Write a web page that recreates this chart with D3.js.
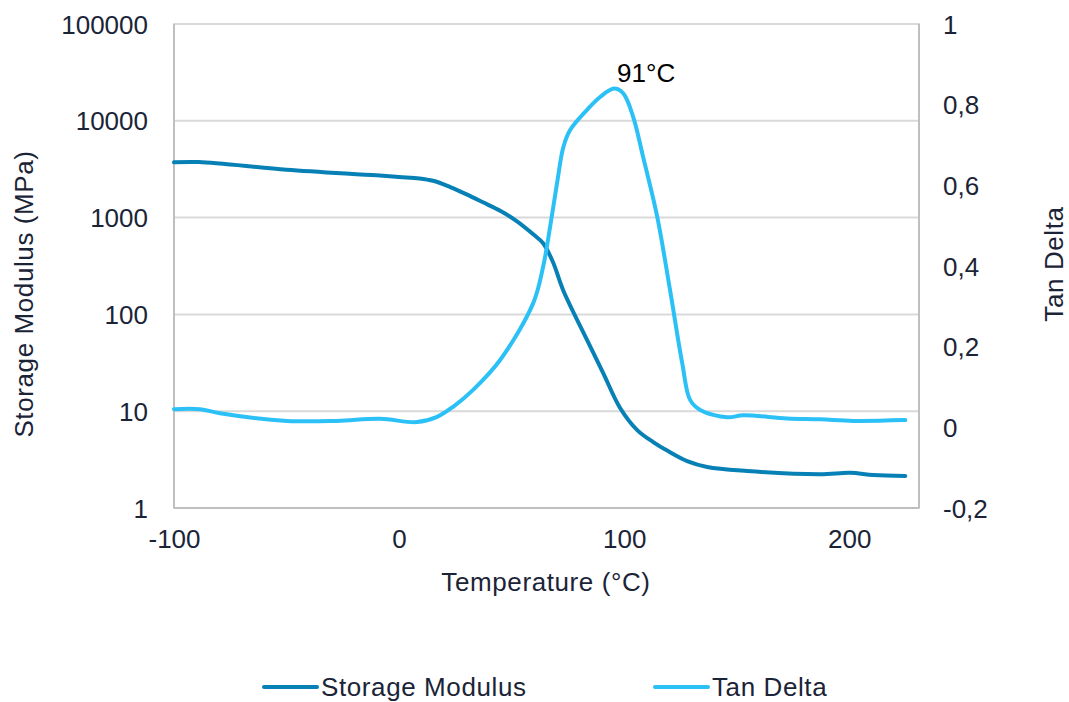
<!DOCTYPE html>
<html><head><meta charset="utf-8">
<script src="https://cdn.jsdelivr.net/npm/d3@7/dist/d3.min.js"></script>
<style>
body{margin:0;background:#fff;}
text{font-family:"Liberation Sans",Arial,Helvetica,sans-serif;fill:#1b2437;}
</style></head>
<body><svg id="c" width="1069" height="702"></svg>
<script>
// Data
const modulusTemp = [-100,-89,-50,-10,0,9,15.1,22.7,30,37.3,44.9,52.4,59.6,64,68.4,72.9,83.6,90.7,98.2,105.8,112.9,119.5,128,136.9,154.7,187,200.4,210.7,224.9];
const modulusVal  = [3724,3750,3128,2733,2626,2540,2400,2069,1740,1438,1175,916,673,543,346,178,54,24.7,10.8,6.38,4.80,3.87,3.05,2.65,2.41,2.23,2.31,2.19,2.14];
const tanTemp = [-100,-88.4,-79.6,-49.8,-27.6,-8.4,8,16.9,24,32.9,44.9,59.6,64,67.1,70.2,73,76,83.5,89.3,95.5,99.6,104,108.4,114.7,120.4,125.8,129.3,133.8,145.8,153,172.4,187,201.8,224.9];
const tanVal  = [0.045,0.045,0.035,0.016,0.016,0.021,0.013,0.026,0.051,0.093,0.167,0.308,0.398,0.497,0.606,0.695,0.737,0.787,0.819,0.84,0.828,0.77,0.671,0.522,0.34,0.159,0.068,0.043,0.025,0.030,0.022,0.020,0.016,0.018];
const xTicks = [-100,0,100,200];
const leftTicks = [1,10,100,1000,10000,100000];
const rightTicks = [-0.2,0,0.2,0.4,0.6,0.8,1];
const seriesNames = ["Storage Modulus","Tan Delta"];
const colors = ["#0780b5","#2bc1f6"];
const peakLabel = "91°C";
const peakTemp = 96, peakVal = 0.84;

const svg = d3.select("#c");
const L = 174, R = 919, T = 24, B = 508;
const x = d3.scaleLinear().domain([-100,231]).range([L,R]);
const yL = d3.scaleLog().domain([1,100000]).range([B,T]);
const yR = d3.scaleLinear().domain([-0.2,1]).range([B,T]);
const fs = 26;
const ls = "0.6px";

// gridlines
svg.append("g").selectAll("line").data(leftTicks.slice(1,-1)).join("line")
  .attr("x1",L).attr("x2",R).attr("y1",d=>yL(d)).attr("y2",d=>yL(d))
  .attr("stroke","#d9d9d9").attr("stroke-width",2);
// plot border
svg.append("rect").attr("x",L).attr("y",T).attr("width",R-L).attr("height",B-T)
  .attr("fill","none").attr("stroke","#d9d9d9").attr("stroke-width",2);
svg.append("line").attr("x1",L).attr("x2",L).attr("y1",T).attr("y2",B).attr("stroke","#bfbfbf").attr("stroke-width",2);
svg.append("line").attr("x1",R).attr("x2",R).attr("y1",T).attr("y2",B).attr("stroke","#bfbfbf").attr("stroke-width",2);
svg.append("line").attr("x1",L).attr("x2",R).attr("y1",B).attr("y2",B).attr("stroke","#bfbfbf").attr("stroke-width",2);

// axes via d3 axis generators, with domain/ticks hidden
const fmtInt = d => String(Math.round(d));
const fmtComma = d => String(Math.round(d*10)/10).replace(".",",");
const axL = svg.append("g").attr("transform",`translate(${L},0)`)
  .call(d3.axisLeft(yL).tickValues(leftTicks).tickFormat(fmtInt).tickSize(0).tickPadding(26));
const axR = svg.append("g").attr("transform",`translate(${R},0)`)
  .call(d3.axisRight(yR).tickValues(rightTicks).tickFormat(fmtComma).tickSize(0).tickPadding(24));
const axB = svg.append("g").attr("transform",`translate(0,${B})`)
  .call(d3.axisBottom(x).tickValues(xTicks).tickFormat(fmtInt).tickSize(0).tickPadding(22));
[axL,axR,axB].forEach(a=>{a.select(".domain").remove();a.selectAll("text").style("font-size",fs+"px").attr("fill","#1b2437").style("font-family","Liberation Sans, Arial, sans-serif");});
axL.selectAll("text").attr("dy","0.35em");
axR.selectAll("text").attr("dy","0.35em");

// lines
const lineM = d3.line().x(d=>x(d[0])).y(d=>yL(d[1])).curve(d3.curveCatmullRom.alpha(0.5));
const lineT = d3.line().x(d=>x(d[0])).y(d=>yR(d[1])).curve(d3.curveCatmullRom.alpha(0.5));
svg.append("path").datum(d3.zip(modulusTemp,modulusVal)).attr("d",lineM)
  .attr("fill","none").attr("stroke",colors[0]).attr("stroke-width",4).attr("stroke-linejoin","round").attr("stroke-linecap","round");
svg.append("path").datum(d3.zip(tanTemp,tanVal)).attr("d",lineT)
  .attr("fill","none").attr("stroke",colors[1]).attr("stroke-width",4).attr("stroke-linejoin","round").attr("stroke-linecap","round");

// annotation
svg.append("text").attr("x",x(peakTemp)+31).attr("y",yR(peakVal)-7).attr("text-anchor","middle")
  .style("font-size",fs+"px").style("fill","#000").text(peakLabel);

// axis titles
svg.append("text").attr("transform","translate(33,294) rotate(-90)").attr("text-anchor","middle")
  .style("font-size",fs+"px").style("letter-spacing",ls).text("Storage Modulus (MPa)");
svg.append("text").attr("transform","translate(1063,264) rotate(-90)").attr("text-anchor","middle")
  .style("font-size",fs+"px").style("letter-spacing",ls).text("Tan Delta");
svg.append("text").attr("x",546).attr("y",591).attr("text-anchor","middle")
  .style("font-size",fs+"px").style("letter-spacing",ls).text("Temperature (°C)");

// legend
const lg = [{x:264},{x:655}];
lg.forEach((p,i)=>{
  svg.append("line").attr("x1",p.x).attr("x2",p.x+53).attr("y1",687).attr("y2",687)
    .attr("stroke",colors[i]).attr("stroke-width",4).attr("stroke-linecap","round");
  svg.append("text").attr("x",p.x+57).attr("y",696).style("font-size",fs+"px").style("letter-spacing",ls).text(seriesNames[i]);
});
</script></body></html>
